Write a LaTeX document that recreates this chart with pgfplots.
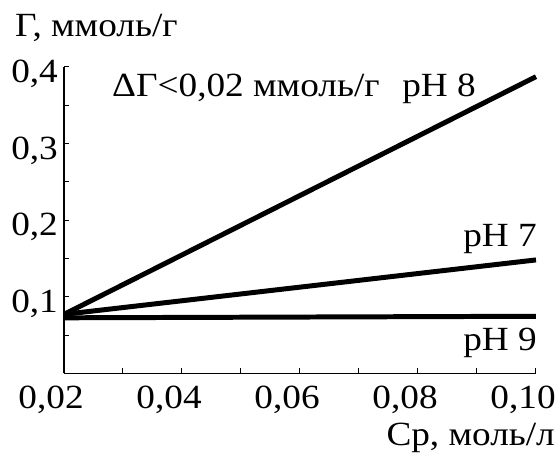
\documentclass[border=0pt]{standalone}
\usepackage{fontspec}
\setmainfont{Liberation Serif}[FakeStretch=1.1]
\usepackage{pgfplots}
\pgfplotsset{compat=1.18}
\begin{document}
\begin{tikzpicture}
\begin{axis}[
  scale only axis, width=474pt, height=308pt,
  xmin=0.02, xmax=0.10, ymin=0, ymax=0.4,
  axis lines*=left,
  axis line style={line width=1.3pt},
  clip=false,
  scaled ticks=false,
  xtick={0.02,0.04,0.06,0.08,0.10},
  minor xtick={0.03,0.05,0.07,0.09},
  ytick={0.1,0.2,0.3,0.4},
  minor ytick={0.05,0.15,0.25,0.35},
  tick align=inside,
  major tick length=5pt, minor tick length=5pt,
  every tick/.style={line width=1pt, black},
  every minor tick/.style={line width=1pt, black},
  every tick label/.append style={font=\fontsize{34}{40}\selectfont, inner sep=0pt},
  /pgf/number format/assume math mode=true,
  x tick label style={/pgf/number format/fixed, /pgf/number format/fixed zerofill, /pgf/number format/precision=2, /pgf/number format/use comma, yshift=-12pt, xshift=-13pt},
  y tick label style={/pgf/number format/fixed, /pgf/number format/precision=1, /pgf/number format/use comma, xshift=-6pt, yshift=-7pt},
]
\addplot[line width=5pt, black] coordinates {(0.02,0.077) (0.10,0.387)};
\addplot[line width=5pt, black] coordinates {(0.02,0.077) (0.10,0.148)};
\addplot[line width=5pt, black] coordinates {(0.02,0.0725) (0.10,0.0745)};
\path (axis cs:0.009153,-0.109) rectangle (axis cs:0.1039,0.487);
\node[anchor=base west, inner sep=0pt, font=\fontsize{34}{40}\selectfont] at (axis cs:0.011695,0.439) {Г, ммоль/г};
\node[anchor=base west, inner sep=0pt, font=\fontsize{34}{40}\selectfont] at (axis cs:0.02814,0.361) {ΔΓ<0,02 ммоль/г};
\node[anchor=base east, inner sep=0pt, font=\fontsize{34}{40}\selectfont] at (axis cs:0.08983,0.361) {pH 8};
\node[anchor=base east, inner sep=0pt, font=\fontsize{34}{40}\selectfont] at (axis cs:0.10017,0.165) {pH 7};
\node[anchor=base east, inner sep=0pt, font=\fontsize{34}{40}\selectfont] at (axis cs:0.10017,0.0299) {pH 9};
\node[anchor=base east, inner sep=0pt, font=\fontsize{34}{40}\selectfont] at (axis cs:0.10322,-0.0935) {Ср, моль/л};
\end{axis}
\end{tikzpicture}
\end{document}
